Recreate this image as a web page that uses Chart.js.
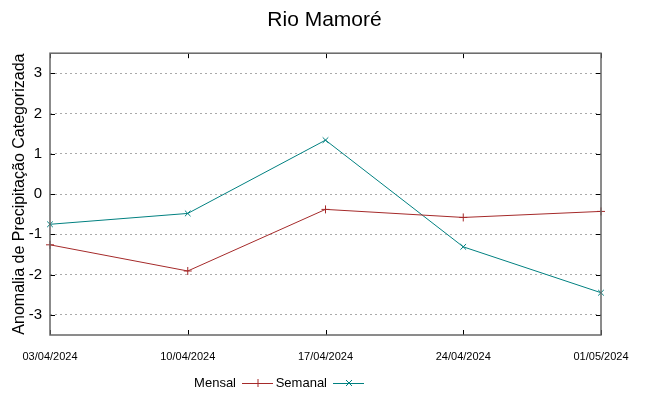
<!DOCTYPE html>
<html lang="pt">
<head>
  <meta charset="UTF-8">
  <title>Rio Mamoré</title>
  <script src="https://cdn.jsdelivr.net/npm/chart.js"></script>
  <style>
    html, body { margin: 0; padding: 0; background: #fff; }
    #wrap { width: 649px; height: 396px; }
  </style>
</head>
<body>
  <div id="wrap"><canvas id="chart" width="649" height="396"></canvas></div>
  <script>
    // datas semanais
    const labels = ['03/04/2024', '10/04/2024', '17/04/2024', '24/04/2024', '01/05/2024'];
    const mensal = [-1.26, -1.91, -0.38, -0.58, -0.43];
    const semanal = [-0.75, -0.48, 1.34, -1.31, -2.45];
    const yTicks = [-3, -2, -1, 0, 1, 2, 3];

    const RED = '#a52a2a';
    const TEAL = '#008080';

    // moldura + marcas internas estilo gnuplot
    const frame = {
      id: 'frame',
      afterDatasetsDraw(chart) {
        const { ctx, chartArea: a, scales } = chart;
        ctx.save();
        ctx.strokeStyle = '#000';
        ctx.lineWidth = 1;
        ctx.beginPath();
        scales.y.ticks.forEach((t, i) => {
          const y = Math.round(scales.y.getPixelForTick(i)) + 0.5;
          ctx.moveTo(a.left, y); ctx.lineTo(a.left + 5, y);
          ctx.moveTo(a.right, y); ctx.lineTo(a.right - 5, y);
        });
        scales.x.ticks.forEach((t, i) => {
          const x = Math.round(scales.x.getPixelForTick(i)) + 0.5;
          ctx.moveTo(x, a.bottom); ctx.lineTo(x, a.bottom - 5);
          ctx.moveTo(x, a.top); ctx.lineTo(x, a.top + 5);
        });
        ctx.stroke();
        ctx.strokeStyle = '#666';
        ctx.lineWidth = 1.5;
        ctx.strokeRect(a.left, a.top, a.right - a.left, a.bottom - a.top);
        ctx.restore();
      }
    };

    // legenda: texto (alinhado à direita) antes da amostra
    const bottomLegend = {
      id: 'bottomLegend',
      afterDraw(chart) {
        const ctx = chart.ctx;
        const y = 383;
        const items = [
          { text: 'Mensal', color: RED, mark: '+', textEnd: 236, lineStart: 242 },
          { text: 'Semanal', color: TEAL, mark: 'x', textEnd: 327, lineStart: 333 }
        ];
        ctx.save();
        ctx.font = '13px "Liberation Sans", sans-serif';
        ctx.textBaseline = 'middle';
        ctx.textAlign = 'right';
        ctx.fillStyle = '#000';
        items.forEach(it => {
          ctx.fillText(it.text, it.textEnd, y);
          const x = it.lineStart;
          ctx.strokeStyle = it.color;
          ctx.lineWidth = 1;
          ctx.beginPath();
          ctx.moveTo(x, y + 0.5); ctx.lineTo(x + 31, y + 0.5);
          const cx = x + 16;
          if (it.mark === '+') {
            ctx.moveTo(cx, y - 4); ctx.lineTo(cx, y + 4);
          } else {
            ctx.moveTo(cx - 3, y - 3); ctx.lineTo(cx + 3, y + 3);
            ctx.moveTo(cx - 3, y + 3); ctx.lineTo(cx + 3, y - 3);
          }
          ctx.stroke();
        });
        ctx.restore();
      }
    };

    new Chart(document.getElementById('chart').getContext('2d'), {
      type: 'line',
      data: {
        labels: labels,
        datasets: [{
          label: 'Mensal',
          data: mensal,
          borderColor: RED,
          backgroundColor: RED,
          borderWidth: 1,
          pointStyle: 'cross',
          pointRadius: 4,
          pointBorderWidth: 1,
          tension: 0
        }, {
          label: 'Semanal',
          data: semanal,
          borderColor: TEAL,
          backgroundColor: TEAL,
          borderWidth: 1,
          pointStyle: 'crossRot',
          pointRadius: 4,
          pointBorderWidth: 1,
          tension: 0
        }]
      },
      options: {
        responsive: false,
        animation: false,
        layout: { padding: 0 },
        plugins: {
          legend: { display: false },
          tooltip: { enabled: false },
          title: {
            display: true,
            text: 'Rio Mamoré',
            color: '#000',
            font: { family: '"Liberation Sans", sans-serif', size: 21, weight: 'normal', lineHeight: 1.2 },
            padding: { top: 8, bottom: 20 }
          }
        },
        scales: {
          x: {
            offset: false,
            grid: { display: false, drawTicks: false },
            border: { display: false },
            ticks: {
              color: '#000',
              maxRotation: 0,
              autoSkip: false,
              padding: 15,
              font: { family: '"Liberation Sans", sans-serif', size: 11 }
            },
            afterFit(s) { s.height = 61; }
          },
          y: {
            min: -3.5,
            max: 3.5,
            afterBuildTicks(s) { s.ticks = yTicks.map(v => ({ value: v })); },
            grid: { color: '#aaaaaa', lineWidth: 1, drawTicks: false },
            border: { display: false, dash: [2, 3] },
            ticks: {
              color: '#000',
              padding: 8,
              font: { family: '"Liberation Sans", sans-serif', size: 15 }
            },
            title: {
              display: true,
              text: 'Anomalia de Precipitação Categorizada',
              color: '#000',
              padding: { top: 10, bottom: 0 },
              font: { family: '"Liberation Sans", sans-serif', size: 16 }
            },
            afterFit(s) { s.width = 50; }
          },
          // espaço vazio à direita do gráfico
          yr: {
            position: 'right',
            min: -3.5,
            max: 3.5,
            grid: { display: false, drawTicks: false },
            border: { display: false },
            ticks: { display: false },
            afterFit(s) { s.width = 48; }
          }
        }
      },
      plugins: [frame, bottomLegend]
    });
  </script>
</body>
</html>
